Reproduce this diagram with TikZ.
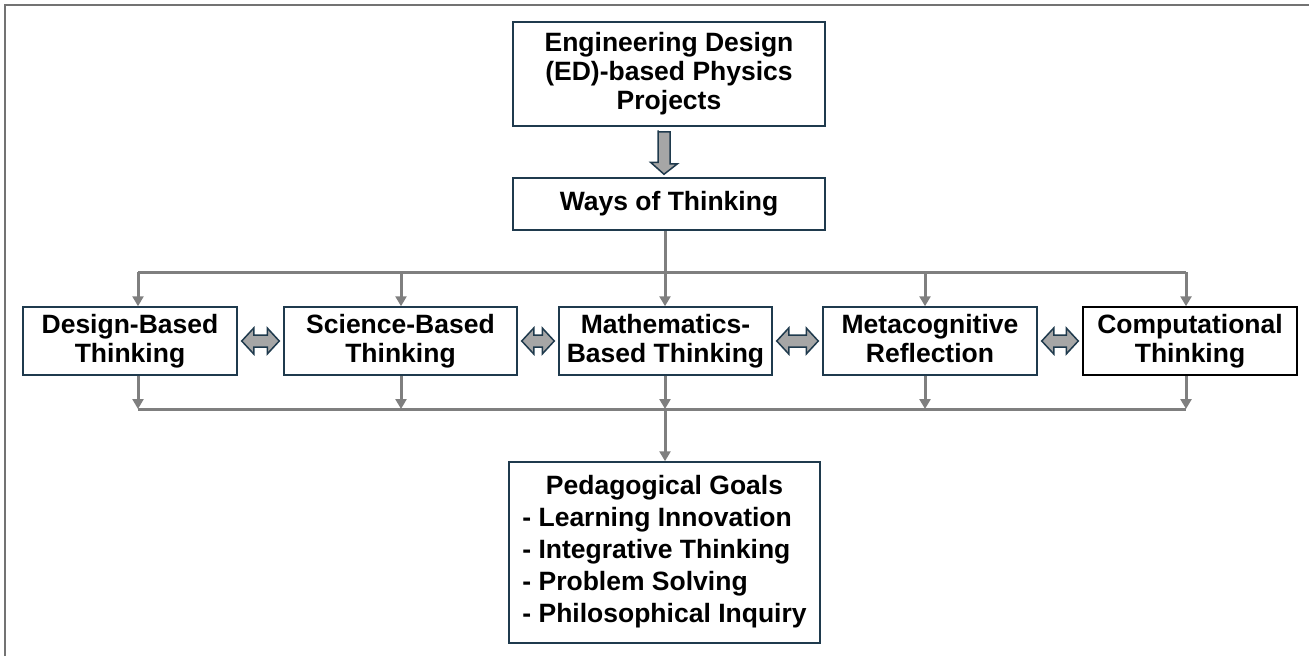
\documentclass[tikz,border=0pt]{standalone}
\usepackage{fontspec}
\setmainfont{Liberation Sans}
\usetikzlibrary{arrows.meta,calc}
\definecolor{boxcol}{HTML}{1F3A4D}
\definecolor{conncol}{HTML}{7F7F7F}
\definecolor{blockfill}{HTML}{A6A6A6}
\definecolor{framecol}{HTML}{737373}
\newcommand\dblarr[2]{%
  \filldraw[blockarr] ($(#1.east)+(4,0)$) -- ++(12,-13) -- ++(0,7)
    -- ($(#2.west)+(-16,-6)$) -- ++(0,-7) -- ($(#2.west)+(-4,0)$)
    -- ++(-12,13) -- ++(0,-7) -- ($(#1.east)+(16,6)$) -- ++(0,7) -- cycle;}
\newcommand\dsc{\vphantom{g}}
\begin{document}
\begin{tikzpicture}[x=1pt,y=-1pt,
  box/.style={draw=boxcol,line width=1.5pt,fill=white,align=center,inner sep=0pt,
    font=\fontsize{26.5}{29}\selectfont\bfseries},
  conn/.style={draw=conncol,line width=3pt},
  arr/.style={conn,-{Triangle[length=10pt,width=11pt]}},
  blockarr/.style={draw=boxcol,fill=blockfill,line width=1.5pt,line join=miter}]
\useasboundingbox (0,0) rectangle (1309,656);
\draw[framecol,line width=2pt] (5,656) -- (5,5) -- (1309,5);

\node[box,minimum width=312pt,minimum height=104pt] (top) at (669,74)
  {Engineering Design\\(ED)-based Physics\\Projects};
\node[box,minimum width=312pt,minimum height=52pt] (ways) at (669,204)
  {Ways of Thinking};

\node[box,minimum width=214pt,minimum height=68pt] (design) at (130,341)
  {Design-Based\\Thinking\dsc};
\node[box,minimum width=233pt,minimum height=68pt] (science) at (400.5,341)
  {Science-Based\\Thinking\dsc};
\node[box,minimum width=213pt,minimum height=68pt] (math) at (665.5,341)
  {Mathematics-\\Based Thinking\dsc};
\node[box,minimum width=214pt,minimum height=68pt] (meta) at (930,341)
  {Metacognitive\\Reflection\dsc};
\node[box,draw=black,minimum width=214pt,minimum height=68pt] (comp) at (1190,341)
  {Computational\\Thinking\dsc};

\node[box,minimum width=311pt,minimum height=181pt] (peda) at (664.5,552.5)
  {\fontsize{26.5}{32}\selectfont
   \begin{tabular}{@{}l@{}}
   \multicolumn{1}{@{}c@{}}{Pedagogical Goals}\\
   - Learning Innovation\\
   - Integrative Thinking\\
   - Problem Solving\\
   - Philosophical Inquiry
   \end{tabular}};

% block arrow top -> ways
\filldraw[blockarr] ($(top.south)+(-11,5)$) -- ++(12,0) -- ++(0,32)
  -- ++(7.5,0) -- ($(ways.north)+(-5,-3)$) -- ++(-13.5,-12) -- ++(7.5,0)
  -- ++(0,-32) -- cycle;

% double arrows
\dblarr{design}{science}
\dblarr{science}{math}
\dblarr{math}{meta}
\dblarr{meta}{comp}

% top bus
\coordinate (t1) at (138,272);
\coordinate (t2) at (401,272);
\coordinate (t3) at (665,272);
\coordinate (t4) at (925,272);
\coordinate (t5) at (1186,272);
\draw[conn] (t3 |- ways.south) -- (t3);
\draw[conn] (t1) -- (t5);
\draw[arr] (t1) -- (t1 |- design.north);
\draw[arr] (t2) -- (t2 |- science.north);
\draw[arr] (t3) -- (t3 |- math.north);
\draw[arr] (t4) -- (t4 |- meta.north);
\draw[arr] (t5) -- (t5 |- comp.north);

% bottom bus
\coordinate (b1) at (138,409);
\coordinate (b2) at (401,409);
\coordinate (b3) at (665,409);
\coordinate (b4) at (925,409);
\coordinate (b5) at (1186,409);
\draw[conn] (b1) -- (b5);
\draw[arr] (b1 |- design.south) -- (b1);
\draw[arr] (b2 |- science.south) -- (b2);
\draw[arr] (b3 |- math.south) -- (b3);
\draw[arr] (b4 |- meta.south) -- (b4);
\draw[arr] (b5 |- comp.south) -- (b5);
\draw[arr] (b3) -- (b3 |- peda.north);
\end{tikzpicture}
\end{document}
